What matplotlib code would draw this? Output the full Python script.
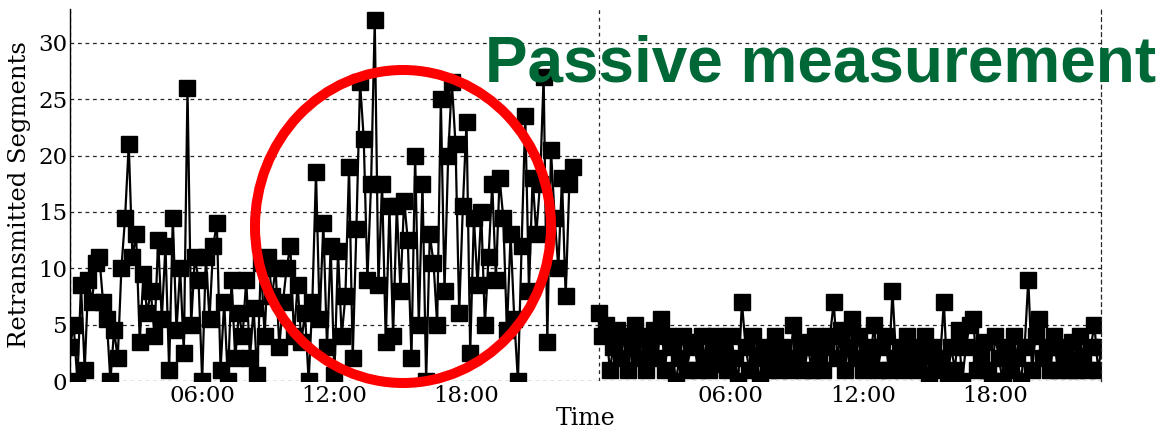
import matplotlib
matplotlib.use("Agg")
import matplotlib.pyplot as plt
from matplotlib.patches import Ellipse
from matplotlib.ticker import FixedLocator, NullFormatter, FixedFormatter

# ---- data (10-minute samples, hours since first midnight) ----
step_h = 1.0 / 6.0
day1_values = [
    3, 5, 0, 8.5, 1, 9, 7, 10.5, 11, 7,
    5.5, 0, 4.5, 2, 10, 14.5, 21, 11, 13, 3.5,
    9.5, 6, 8, 4, 12.5, 5.5, 12, 1, 14.5, 4.5,
    10, 2.5, 26, 5, 11, 9, 0, 11, 5.5, 12,
    14, 1, 7, 0, 9, 2, 6, 4, 9, 2,
    6.5, 0.5, 10.5, 4, 11, 7.5, 10, 3, 7, 10,
    12, 4, 8.5, 3.5, 6, 0, 7, 18.5, 5.5, 14,
    3, 12, 0.5, 11.5, 4, 7.5, 19, 2, 13.5, 26.5,
    21.5, 9, 17.5, 32, 8.5, 17.5, 3.5, 15.5, 4, 15.5,
    8, 16, 12.5, 2, 20, 5, 17.5, 0, 13, 10.5,
    5, 25, 8, 20, 26.5, 21, 6, 15.5, 23, 2.5,
    14.5, 8.5, 15, 5, 11, 17.5, 9, 18, 14.5, 4.5,
    13, 5.5, 0, 12, 23.5, 8, 18, 13, 17.5, 27,
    3.5, 20.5, 14.5, 10, 18, 7.5, 17.5, 19,
]
day2_values = [
    6, 4, 5, 1, 3, 4.5, 2, 4, 1, 3.5,
    5, 2, 4, 1, 3, 4.5, 2, 5.5, 1, 4,
    3, 0, 2, 4, 1, 3, 3.5, 1, 4, 2,
    1, 3, 4, 1.5, 3, 1, 4, 2, 0, 7,
    3, 1, 4, 2, 0, 3, 1, 2.5, 4, 1,
    3, 2, 1, 5, 2, 3.5, 1, 3, 1, 4,
    2, 1, 3, 4, 7, 2, 4.5, 1, 3, 5.5,
    2, 4, 1, 3, 2, 5, 1, 3, 4, 1,
    8, 2, 3, 1, 4, 2, 3, 1, 2.5, 4,
    0.5, 3, 1, 2, 7, 0, 3, 1, 4.5, 0,
    3, 5, 5.5, 1, 2, 3.5, 1, 0, 4, 2,
    0, 3, 1, 4, 2, 0, 3, 9, 1, 4,
    5.5, 2, 3, 1, 4, 1, 3, 2, 1, 3.5,
    1, 4, 2, 1, 3, 5, 1, 3,
]
day2_start_h = 24.0
x_max_h = 46.8
y_max = 33
y_ticks = [0, 5, 10, 15, 20, 25, 30]
midnight_ticks = [0, 24, 48]
hour_ticks = [6, 12, 18, 30, 36, 42]
hour_labels = ["06:00", "12:00", "18:00", "06:00", "12:00", "18:00"]
title_text = "Passive measurement"

day1_x = [i * step_h for i in range(len(day1_values))]
day2_x = [day2_start_h + i * step_h for i in range(len(day2_values))]

W, H = 1161, 428
fig = plt.figure(figsize=(W / 100, H / 100), dpi=100)
ax = fig.add_axes([70 / W, 1 - 381 / H, (1101 - 70) / W, (381 - 9) / H])

style = dict(color="black", lw=1.6, marker="s", markersize=11, markeredgewidth=1,
             markerfacecolor="black", markeredgecolor="black")
ax.plot(day1_x, day1_values, **style)
ax.plot(day2_x, day2_values, **style)

ax.set_xlim(0, x_max_h)
ax.set_ylim(0, y_max)

ax.xaxis.set_major_locator(FixedLocator(midnight_ticks))
ax.xaxis.set_major_formatter(NullFormatter())
ax.xaxis.set_minor_locator(FixedLocator(hour_ticks))
ax.xaxis.set_minor_formatter(FixedFormatter(hour_labels))
ax.set_yticks(y_ticks)

serif = "DejaVu Serif"
for lab in ax.get_yticklabels() + ax.xaxis.get_minorticklabels():
    lab.set_fontfamily(serif)
ax.tick_params(axis="y", labelsize=16.5, length=0, pad=2)
ax.tick_params(axis="x", which="both", labelsize=16.5, length=0, pad=3)

grid_style = dict(color="0.15", lw=0.9, linestyle=(0, (3, 3)))
ax.yaxis.grid(True, **grid_style)
ax.xaxis.grid(True, which="major", **grid_style)
ax.set_axisbelow(True)

for s in ["top", "bottom"]:
    ax.spines[s].set_visible(False)
ax.spines["left"].set_linewidth(1.0)
ax.spines["right"].set_linewidth(0.9)
ax.spines["right"].set_linestyle((0, (3, 3)))
ax.spines["right"].set_color("0.15")

ax.set_ylabel("Retransmitted Segments", fontfamily=serif, fontsize=17.5, labelpad=5)
ax.set_xlabel("Time", fontfamily=serif, fontsize=17, labelpad=0)

ell = Ellipse((403 / W, 1 - 226.5 / H), 296 / W, 313 / H,
              transform=fig.transFigure, fill=False, edgecolor="#ff0000",
              lw=7.2, zorder=10, clip_on=False)
fig.add_artist(ell)

fig.text(485 / W, 1 - 82 / H, title_text, fontfamily="Liberation Sans",
         fontweight="bold", fontsize=46, color="#006837",
         ha="left", va="baseline", zorder=11)

fig.savefig("out.png", dpi=100)
